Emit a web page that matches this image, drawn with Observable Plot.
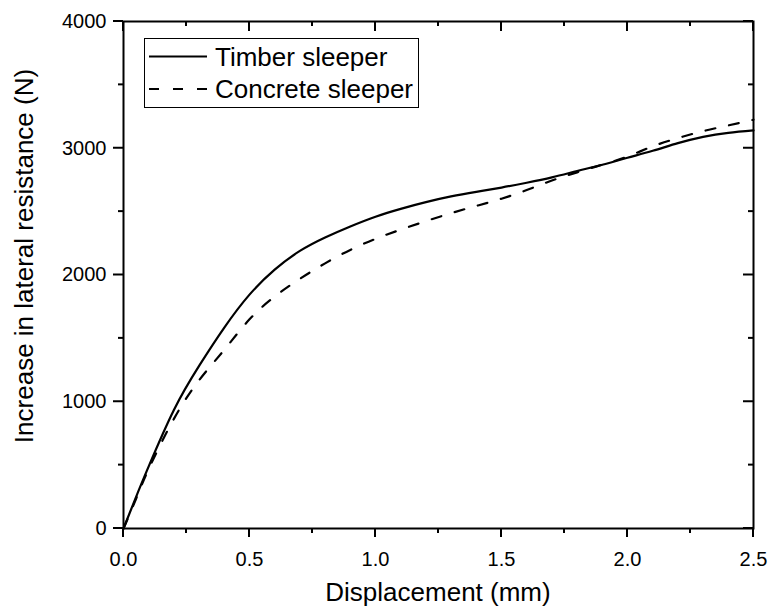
<!DOCTYPE html>
<html><head><meta charset="utf-8">
<script src="https://cdn.jsdelivr.net/npm/d3@7"></script>
<script src="https://cdn.jsdelivr.net/npm/@observablehq/plot@0.6"></script>
<style>
body{margin:0;background:#fff}
#chart svg{font-family:"Liberation Sans",Arial,sans-serif}
</style>
</head><body><div id="chart"></div>
<script>
// Data
const displacement = [0, 0.05, 0.1, 0.2, 0.3, 0.4, 0.5, 0.6, 0.7, 0.8, 0.9, 1.0, 1.1, 1.2, 1.3, 1.4, 1.5, 1.6, 1.7, 1.8, 1.9, 2.0, 2.1, 2.2, 2.3, 2.4, 2.5];
const timber   = [0, 250, 490, 935, 1283, 1585, 1845, 2042, 2190, 2296, 2383, 2460, 2522, 2575, 2620, 2656, 2690, 2728, 2770, 2820, 2870, 2925, 2980, 3040, 3090, 3122, 3141];
const concrete = [0, 235, 470, 865, 1170, 1410, 1650, 1830, 1970, 2092, 2198, 2285, 2358, 2425, 2488, 2545, 2602, 2670, 2745, 2810, 2870, 2935, 3015, 3080, 3135, 3180, 3225];
const seriesNames = ["Timber sleeper", "Concrete sleeper"];
const xMajorTicks = [0, 0.5, 1.0, 1.5, 2.0, 2.5];
const xMinorTicks = [0.25, 0.75, 1.25, 1.75, 2.25];
const yMajorTicks = [0, 1000, 2000, 3000, 4000];
const yMinorTicks = [500, 1500, 2500, 3500];
const xLabel = "Displacement (mm)";
const yLabel = "Increase in lateral resistance (N)";

const rows = [];
displacement.forEach((d, i) => {
  rows.push({series: seriesNames[0], x: d, y: timber[i]});
  rows.push({series: seriesNames[1], x: d, y: concrete[i]});
});

const W = 771, H = 607, mL = 123, mR = 18, mT = 21, mB = 79;
const dash = "10,14";
const lw = 2.2;

const plot = Plot.plot({
  width: W, height: H,
  marginLeft: mL, marginRight: mR, marginTop: mT, marginBottom: mB,
  style: {fontFamily: '"Liberation Sans", Arial, sans-serif', fontSize: "20px", color: "#000", background: "#fff"},
  x: {domain: [0, 2.5], ticks: xMajorTicks, tickSize: 0, tickPadding: 23, tickFormat: d3.format(".1f"), label: null},
  y: {domain: [0, 4000], ticks: yMajorTicks, tickSize: 0, tickPadding: 17, tickFormat: d3.format("d"), label: null},
  marks: [
    Plot.lineY(rows.filter(r => r.series === seriesNames[0]), {x: "x", y: "y", stroke: "#000", strokeWidth: lw, curve: "natural"}),
    Plot.lineY(rows.filter(r => r.series === seriesNames[1]), {x: "x", y: "y", stroke: "#000", strokeWidth: lw, strokeDasharray: dash, curve: "natural"}),
    Plot.frame({stroke: "#000", strokeWidth: 2})
  ]
});

document.getElementById("chart").appendChild(plot);

const svg = d3.select(plot);
const xs = plot.scale("x"), ys = plot.scale("y");
const fLeft = mL, fRight = W - mR, fTop = mT, fBottom = H - mB;

// Tick marks positioned through Plot's own scales
const tg = svg.append("g");
function tick(x1, y1, x2, y2) {
  tg.append("line").attr("x1", x1).attr("y1", y1).attr("x2", x2).attr("y2", y2)
    .attr("stroke", "#000").attr("stroke-width", 2);
}
xMajorTicks.forEach(v => { const p = xs.apply(v); tick(p, fBottom, p, fBottom + 9); tick(p, fTop, p, fTop + 10); });
xMinorTicks.forEach(v => { const p = xs.apply(v); tick(p, fBottom, p, fBottom + 5); tick(p, fTop, p, fTop + 5); });
yMajorTicks.forEach(v => { const p = ys.apply(v); tick(fLeft - 10, p, fLeft, p); tick(fRight - 10, p, fRight, p); });
yMinorTicks.forEach(v => { const p = ys.apply(v); tick(fLeft - 5, p, fLeft, p); tick(fRight - 5, p, fRight, p); });

// Axis titles
svg.append("text").attr("x", 438).attr("y", 601).attr("text-anchor", "middle")
  .attr("font-size", 26).attr("fill", "#000").text(xLabel);
svg.append("text").attr("transform", "translate(33,256) rotate(-90)").attr("text-anchor", "middle")
  .attr("font-size", 26).attr("fill", "#000").text(yLabel);

// Legend
const lg = svg.append("g");
lg.append("rect").attr("x", 144.5).attr("y", 38.5).attr("width", 274).attr("height", 69)
  .attr("fill", "#fff").attr("stroke", "#000").attr("stroke-width", 1);
seriesNames.forEach((name, i) => {
  const cy = 56.5 + i * 32.5;
  lg.append("line").attr("x1", 149).attr("x2", 207).attr("y1", cy).attr("y2", cy)
    .attr("stroke", "#000").attr("stroke-width", lw)
    .attr("stroke-dasharray", i === 1 ? dash : null);
  lg.append("text").attr("x", 215).attr("y", cy + 9.3).attr("text-anchor", "start")
    .attr("font-size", 26).attr("fill", "#000").text(name);
});
</script>
</body></html>
